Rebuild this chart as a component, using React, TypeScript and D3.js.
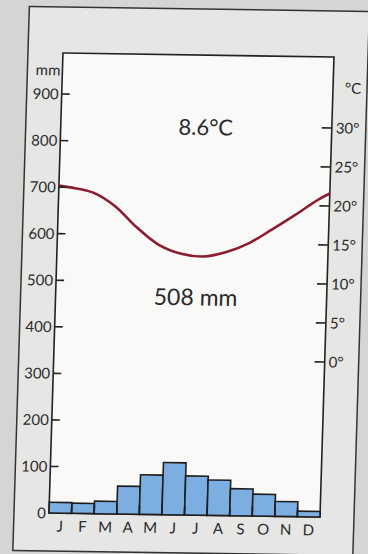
import React from "react";
import * as d3 from "d3";

const months = ["J", "F", "M", "A", "M", "J", "J", "A", "S", "O", "N", "D"];
const precipitation = [23, 22, 27, 60, 85, 112, 84, 76, 58, 47, 32, 12];
const temperature = [21.9, 21.3, 19.6, 16.9, 14.7, 13.6, 13.3, 13.9, 15.1, 16.9, 18.8, 20.8];
const tempStart = 22.1;
const tempEnd = 21.6;
const mmTicks = [0, 100, 200, 300, 400, 500, 600, 700, 800, 900];
const tempTicks = [0, 5, 10, 15, 20, 25, 30];
const annualTemp = "8.6°C";
const annualPrecip = "508 mm";

const W = 368;
const H = 554;
const P = { left: 56, right: 327, top: 55, bottom: 515 };
const FONT = "Lato, 'Open Sans', sans-serif";

export default function App() {
  const x = d3
    .scaleBand<number>()
    .domain(d3.range(12))
    .range([P.left, P.right])
    .padding(0);
  const bw = x.bandwidth();
  const xPos = d3.scaleLinear().domain([-0.5, 11.5]).range([P.left, P.right]);
  const yMm = d3.scaleLinear().domain([0, 900]).range([P.bottom, 96]);
  const yT = d3.scaleLinear().domain([0, 30]).range([360, 126]);

  const tempPts: [number, number][] = [
    [-0.5, tempStart],
    ...temperature.map((t, i) => [i, t] as [number, number]),
    [11.5, tempEnd],
  ];
  const line = d3
    .line<[number, number]>()
    .x((d) => xPos(d[0]))
    .y((d) => yT(d[1]))
    .curve(d3.curveCatmullRom.alpha(0.5));

  const cx = 191;
  const cy = 284;
  const tf = `translate(${cx},${cy}) matrix(1,0.0148,-0.0304,1,0,0) translate(${-cx},${-cy})`;
  const textCol = "#2a2a2a";

  return (
    <div style={{ position: "absolute", left: 0, top: 0 }}>
      <svg width={W} height={H} style={{ display: "block" }}>
        <rect x={0} y={0} width={W} height={H} fill="#d5d5d3" />
        <g transform={tf}>
          <rect x={21} y={9} width={340} height={544} fill="#e6e6e4" stroke="#333" strokeWidth={1.5} />
          <rect x={P.left} y={P.top} width={P.right - P.left} height={P.bottom - P.top} fill="#f9f9f8" stroke="#222" strokeWidth={1.6} />
          <defs>
            <clipPath id="plotclip">
              <rect x={P.left} y={P.top} width={P.right - P.left} height={P.bottom - P.top} />
            </clipPath>
          </defs>
          {precipitation.map((v, i) => (
            <rect
              key={i}
              x={x(i)}
              y={yMm(v)}
              width={bw}
              height={P.bottom - yMm(v)}
              fill="#7caee2"
              stroke="#1e1e1e"
              strokeWidth={1.6}
            />
          ))}
          {d3.range(1, 12).map((i) => (
            <line key={i} x1={P.left + i * bw} x2={P.left + i * bw} y1={P.bottom} y2={P.bottom - 9} stroke="#1e1e1e" strokeWidth={1.6} />
          ))}
          <path d={line(tempPts) || ""} fill="none" stroke="#8c1c2e" strokeWidth={2.6} clipPath="url(#plotclip)" />
          {mmTicks.map((t) => (
            <g key={t}>
              {t > 0 && <line x1={P.left} x2={P.left + 8} y1={yMm(t)} y2={yMm(t)} stroke="#222" strokeWidth={1.6} />}
              <text x={P.left - 3} y={yMm(t)} dy="0.36em" textAnchor="end" fontSize={15} fontFamily={FONT} fill={textCol}>
                {t}
              </text>
            </g>
          ))}
          <text x={P.left - 2} y={72} dy="0.36em" textAnchor="end" fontSize={15} fontFamily={FONT} fill={textCol}>
            mm
          </text>
          {tempTicks.map((t) => (
            <g key={t}>
              <line x1={P.right - 10} x2={P.right} y1={yT(t)} y2={yT(t)} stroke="#222" strokeWidth={1.6} />
              <text x={P.right + 4} y={yT(t)} dy="0.36em" fontSize={15} fontFamily={FONT} fill={textCol}>
                {`${t}°`}
              </text>
            </g>
          ))}
          <text x={P.right + 12} y={86} dy="0.36em" fontSize={15} fontFamily={FONT} fill={textCol}>
            °C
          </text>
          {months.map((m, i) => (
            <text key={i} x={(x(i) as number) + bw / 2} y={P.bottom + 13} dy="0.36em" textAnchor="middle" fontSize={15} fontFamily={FONT} fill={textCol}>
              {m}
            </text>
          ))}
          <text x={201} y={127} dy="0.36em" textAnchor="middle" fontSize={22} fontFamily={FONT} fill={textCol}>
            {annualTemp}
          </text>
          <text x={196} y={297} dy="0.36em" textAnchor="middle" fontSize={23} fontFamily={FONT} fill={textCol}>
            {annualPrecip}
          </text>
        </g>
      </svg>
    </div>
  );
}
